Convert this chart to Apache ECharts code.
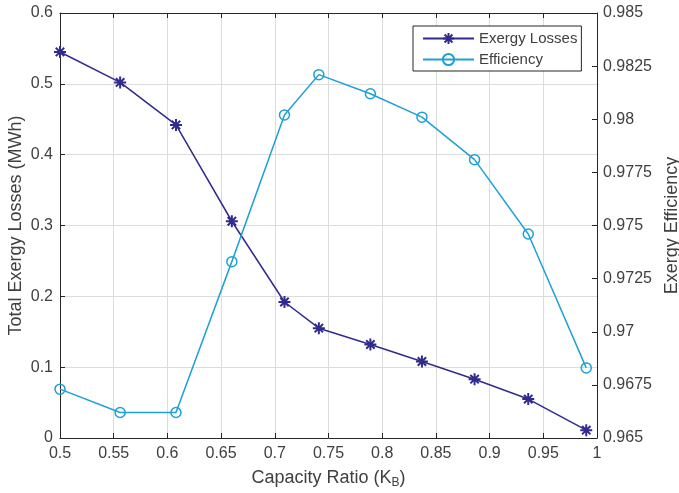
<!DOCTYPE html>
<html>
<head>
<meta charset="utf-8">
<script src="https://cdn.jsdelivr.net/npm/echarts@6/dist/echarts.min.js"></script>
<style>html,body{margin:0;padding:0;background:#fff}#c{width:679px;height:493px}</style>
</head>
<body>
<div id="c"></div>
<script>
const capacityRatio = [0.5, 0.556, 0.608, 0.66, 0.709, 0.741, 0.789, 0.837, 0.886, 0.936, 0.99];
const exergyLosses = [0.545, 0.502, 0.442, 0.306, 0.192, 0.155, 0.132, 0.108, 0.083, 0.055, 0.011];
const efficiency = [0.9673, 0.9662, 0.9662, 0.9733, 0.9802, 0.9821, 0.9812, 0.9801, 0.9781, 0.9746, 0.9683];
const seriesNames = ['Exergy Losses', 'Efficiency'];

const FONT = 'Arial, "Liberation Sans", sans-serif';
const AX = '#262626';
const TXT = '#404040';
const C1 = '#302b8c';
const C2 = '#1ea0d6';
const star = 'path://M5,0L5,10M0,5L10,5M1.5,1.5L8.5,8.5M1.5,8.5L8.5,1.5';

const chart = echarts.init(document.getElementById('c'), null, {renderer: 'canvas'});
chart.setOption({
  animation: false,
  backgroundColor: '#fff',
  grid: {left: 60, right: 82, top: 13, bottom: 55, containLabel: false, outerBoundsMode: 'none'},
  legend: {
    orient: 'vertical', left: 413, top: 26,
    data: seriesNames,
    itemWidth: 51, itemHeight: 14, itemGap: 6,
    padding: [5, 4, 4, 9],
    borderColor: AX, borderWidth: 1, backgroundColor: '#fff',
    textStyle: {fontFamily: FONT, fontSize: 15, color: TXT}
  },
  xAxis: [{
    type: 'value', min: 0.5, max: 1, interval: 0.05,
    name: 'Capacity Ratio (K{sub|B})', nameLocation: 'middle', nameGap: 30,
    nameTextStyle: {fontFamily: FONT, fontSize: 18, color: TXT,
      rich: {sub: {fontFamily: FONT, fontSize: 12, color: TXT, verticalAlign: 'bottom', padding: [9, 0, 0, 0]}}},
    axisLine: {lineStyle: {color: AX, width: 1}},
    axisTick: {inside: true, length: 5, lineStyle: {color: AX}},
    axisLabel: {fontFamily: FONT, fontSize: 16, color: TXT, margin: 8},
    splitLine: {show: true, lineStyle: {color: '#dcdcdc', width: 1}}
  }, {
    type: 'value', position: 'top', min: 0.5, max: 1, interval: 0.05,
    axisLine: {lineStyle: {color: AX, width: 1}},
    axisTick: {inside: true, length: 5, lineStyle: {color: AX}},
    axisLabel: {show: false}, splitLine: {show: false}
  }],
  yAxis: [{
    type: 'value', min: 0, max: 0.6, interval: 0.1,
    name: 'Total Exergy Losses (MWh)', nameLocation: 'middle', nameGap: 35, nameRotate: 90,
    nameMoveOverlap: false,
    nameTextStyle: {fontFamily: FONT, fontSize: 18, color: TXT},
    axisLine: {show: true, lineStyle: {color: AX, width: 1}},
    axisTick: {show: true, inside: true, length: 5, lineStyle: {color: AX}},
    axisLabel: {fontFamily: FONT, fontSize: 16, color: TXT, margin: 7},
    splitLine: {show: true, lineStyle: {color: '#dcdcdc', width: 1}}
  }, {
    type: 'value', position: 'right', min: 0.965, max: 0.985, interval: 0.0025,
    name: 'Exergy Efficiency', nameLocation: 'middle', nameGap: 62, nameRotate: 90,
    nameTextStyle: {fontFamily: FONT, fontSize: 18, color: TXT},
    axisLine: {show: true, lineStyle: {color: AX, width: 1}},
    axisTick: {show: true, inside: true, length: 5, lineStyle: {color: AX}},
    axisLabel: {fontFamily: FONT, fontSize: 16, color: TXT, margin: 6,
      formatter: v => String(parseFloat(v.toFixed(4)))},
    splitLine: {show: false}
  }],
  series: [{
    name: seriesNames[0], type: 'line', xAxisIndex: 0, yAxisIndex: 0,
    data: capacityRatio.map((x, i) => [x, exergyLosses[i]]),
    symbol: star, symbolSize: 12,
    lineStyle: {color: C1, width: 1.5},
    itemStyle: {color: C1, borderColor: C1, borderWidth: 2}
  }, {
    name: seriesNames[1], type: 'line', xAxisIndex: 0, yAxisIndex: 1,
    data: capacityRatio.map((x, i) => [x, efficiency[i]]),
    symbol: 'circle', symbolSize: 10,
    lineStyle: {color: C2, width: 1.5},
    itemStyle: {color: 'rgba(255,255,255,0)', borderColor: C2, borderWidth: 1.5}
  }]
});
</script>
</body>
</html>
